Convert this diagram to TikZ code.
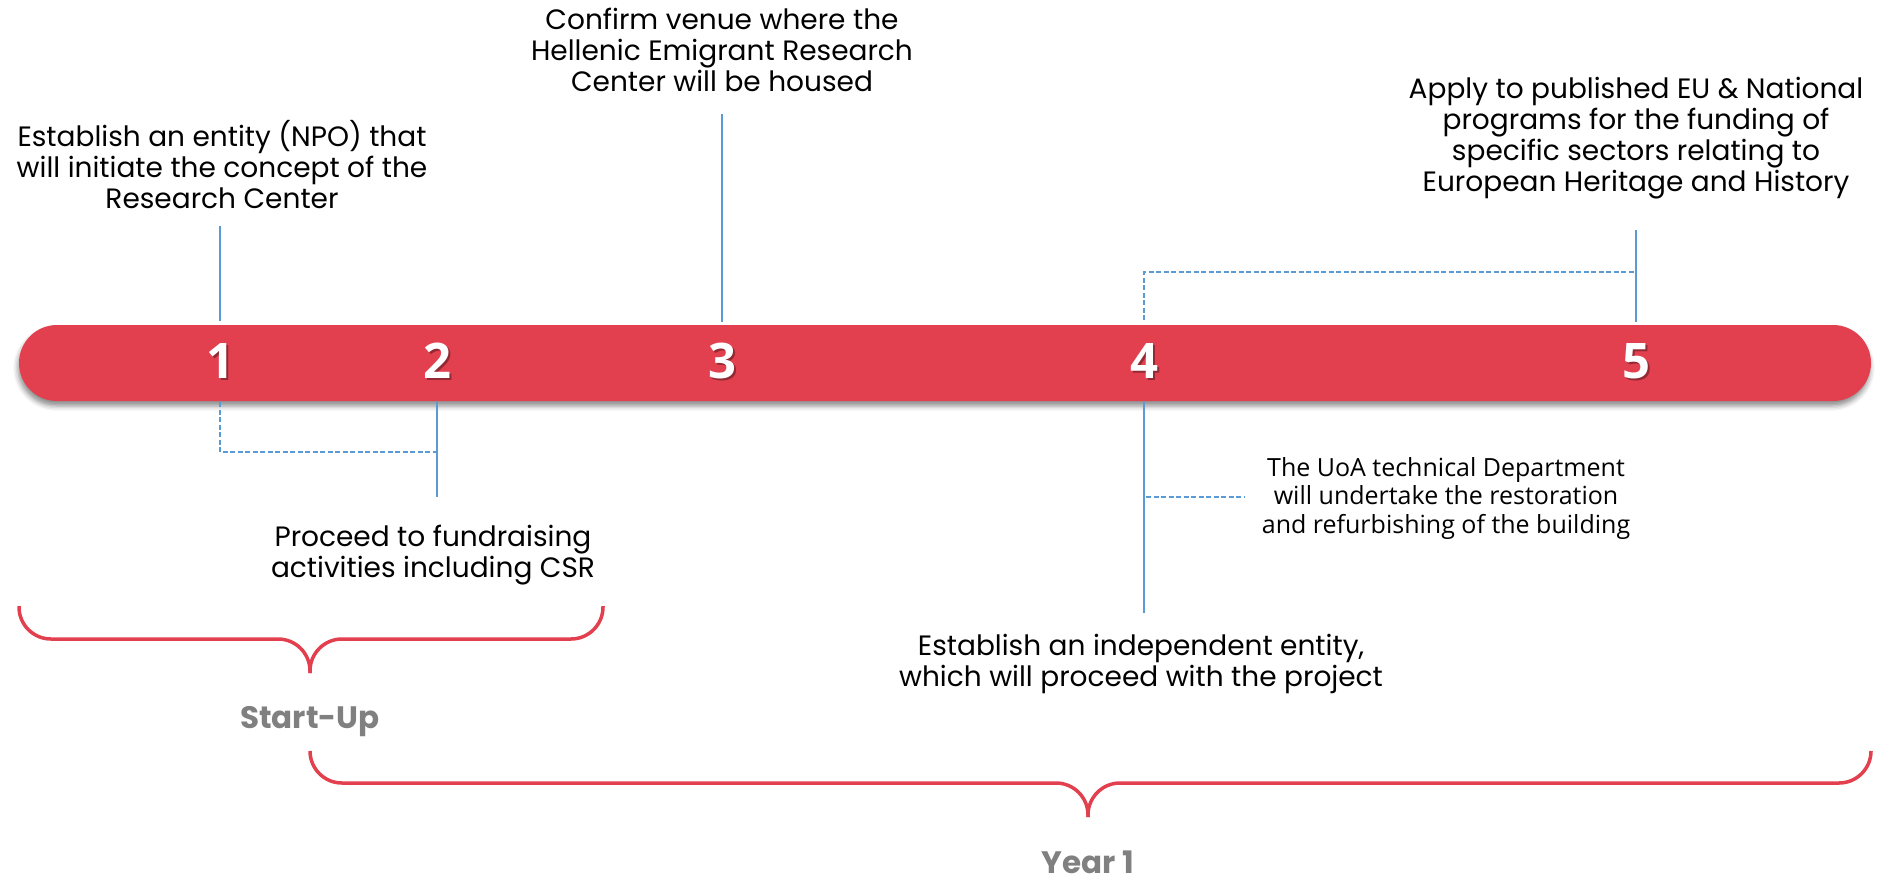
\documentclass[tikz,border=0pt]{standalone}
\usepackage{fontspec}
\setmainfont{Poppins}
\newfontfamily\numfont{Open Sans}
\newfontfamily\notefont{Open Sans}
\usetikzlibrary{shadows.blur}
\definecolor{barred}{RGB}{227,64,79}
\definecolor{lineblue}{RGB}{91,155,213}
\definecolor{labelgray}{RGB}{128,128,128}
\begin{document}
\begin{tikzpicture}[x=1pt,y=-1pt,
  desc/.style={align=center, anchor=base, font=\fontsize{28}{31}\selectfont, inner sep=0pt},
  note/.style={align=center, anchor=base, font=\notefont\fontsize{25}{28.5}\selectfont, inner sep=0pt},
  period/.style={anchor=base, font=\bfseries\fontsize{31}{36}\selectfont, text=labelgray, inner sep=0pt},
  num/.style={font=\numfont\bfseries\fontsize{49}{49}\selectfont, text=white, inner sep=0pt},
  numshadow/.style={font=\numfont\bfseries\fontsize{49}{49}\selectfont, text=black, opacity=0.35, inner sep=0pt},
  solidlink/.style={draw=lineblue, line width=1.6pt},
  dashlink/.style={draw=lineblue, line width=1.6pt, dash pattern=on 5pt off 2.5pt},
  brace/.style={draw=barred, line width=3.5pt, rounded corners=32pt},
]
\useasboundingbox (0,0) rectangle (1889,881);

% timeline bar
\fill[barred, rounded corners=38pt, blur shadow={shadow xshift=-1pt, shadow yshift=-5pt, shadow blur radius=5pt, shadow opacity=45}] (19,325) rectangle (1871,401);

% milestone numbers
\foreach \n/\x in {1/220, 2/437, 3/722, 4/1144, 5/1636}{
  \node[numshadow] (s\n) at (\x+2,363) {\n};
  \node[num] (n\n) at (\x,361) {\n};
}

% descriptions (anchored at the baseline of the last line)
\node[desc] (t1) at (222,208) {Establish an entity (NPO) that\\will initiate the concept of the\\Research Center};
\node[desc] (t3) at (722,91) {Confirm venue where the\\Hellenic Emigrant Research\\Center will be housed};
\node[desc] (t5) at (1636,191) {Apply to published EU \& National\\programs for the funding of\\specific sectors relating to\\European Heritage and History};
\node[desc] (t2) at (433,577) {Proceed to fundraising\\activities including CSR};
\node[desc] (t4) at (1141,686) {Establish an independent entity,\\which will proceed with the project};
\node[note] (t4b) at (1446,533) {The UoA technical Department\\will undertake the restoration\\and refurbishing of the building};

% connector end points
\coordinate (a1) at (220,226); \coordinate (b1) at (220,321);
\coordinate (c1) at (220,402); \coordinate (d1) at (220,452);
\coordinate (a2) at (437,402); \coordinate (b2) at (437,497); \coordinate (d2) at (437,452);
\coordinate (a3) at (722,114); \coordinate (b3) at (722,322);
\coordinate (a5) at (1636,230); \coordinate (b5) at (1636,322); \coordinate (d5) at (1636,272);
\coordinate (c4) at (1144,320); \coordinate (d4) at (1144,272);
\coordinate (a4) at (1144,402); \coordinate (b4) at (1144,613);
\coordinate (e4) at (1146,497); \coordinate (f4) at (1245,497);

\draw[solidlink] (a1) -- (b1);
\draw[dashlink] (c1) -- (d1) -- (d2);
\draw[solidlink] (a2) -- (b2);
\draw[solidlink] (a3) -- (b3);
\draw[solidlink] (a5) -- (b5);
\draw[dashlink] (c4) -- (d4) -- (d5);
\draw[solidlink] (a4) -- (b4);
\draw[dashlink] (e4) -- (f4);

% braces
\coordinate (br1l) at (19,606); \coordinate (br1r) at (603,606);
\coordinate (br1m) at (310,639); \coordinate (br1t) at (310,673);
\draw[brace] (br1l) -- (19,639) -- (br1m) -- (br1t);
\draw[brace] (br1r) -- (603,639) -- (br1m) -- (br1t);
\coordinate (br2l) at (310,751); \coordinate (br2r) at (1871,751);
\coordinate (br2m) at (1088,783); \coordinate (br2t) at (1088,817);
\draw[brace] (br2l) -- (310,783) -- (br2m) -- (br2t);
\draw[brace] (br2r) -- (1871,783) -- (br2m) -- (br2t);

\node[period] (p1) at (310,728) {Start-Up};
\node[period] (p2) at (1088,873) {Year 1};
\end{tikzpicture}
\end{document}
